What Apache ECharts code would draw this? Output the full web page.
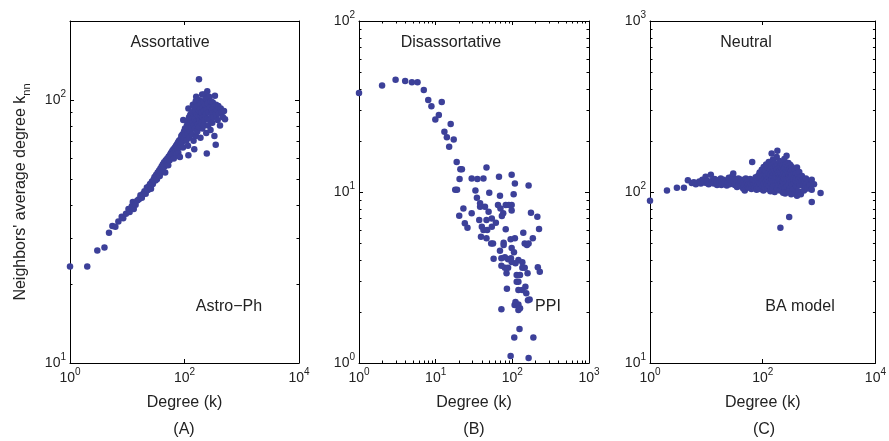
<!DOCTYPE html>
<html><head><meta charset="utf-8">
<script src="https://cdn.jsdelivr.net/npm/echarts@6/dist/echarts.min.js"></script>
<style>html,body{margin:0;padding:0;background:#fff}#c{width:889px;height:441px}</style>
</head><body><div id="c"></div><script>
// ---- data: [degree k, neighbours' average degree knn] ----
const astroPh = [[1,23.3],[2,23.3],[3,26.8],[4,27.5],[4.8,31.3],[5.5,33.2],[6.2,33],[7,34.5],[8,36],[8.5,35.5],[9.5,37],[10.5,38.5],[11,37.5],[12,39.5],[12.5,41],[13,38.5],[14,40],[15,41.5],[16,42],[17,43.5],[18,42.5],[19,44],[20,45],[21,44],[22,46.5],[23,45.5],[24,47],[25,48],[26,46],[27,49],[28,48],[29,50],[30,51],[31,49.5],[32,52],[33,50],[34,53],[35,52],[36,54],[37,51.5],[38,55],[39,53],[40,56],[41,54],[42,57],[43,55.5],[44,58],[45,56],[46,53],[47,59],[48,57],[50,60],[51,58],[52,56.5],[53,61],[55,59],[56,62],[57,60.5],[58,63],[60,61],[61,64],[62,62],[64,65],[65,60],[66,63.5],[68,66],[70,64],[71,67],[72,62],[74,68],[75,65.5],[77,69],[78,63],[80,70],[82,66],[83,60.8],[85,71],[86,68],[88,73],[90,69],[92,74],[94,66],[95,84],[96,71],[98,76],[100,72],[102,78],[104,74],[106,77.6],[108,70],[110,80],[112,75],[114,83],[115,67],[117,93],[117,61.7],[118,78],[120,86],[122,72],[124,81],[126,88],[128,76],[130,84],[132,79],[134,90],[136,74],[138,82],[140,96],[142,87],[144,70],[146,80],[148,94],[148,65],[150,85],[152,78],[155,90],[157,99],[158,73],[160,103],[162,83],[165,88],[167,76],[170,95],[172,81],[175,86],[178,91],[179,120],[180,79],[183,100],[185,84],[188,93],[190,72],[193,87],[195,97],[198,82],[200,90],[203,105],[205,78],[208,94],[210,86],[213,99],[216,80],[219,105],[220,91],[224,84],[228,96],[232,88],[236,101],[240,75],[245,62.7],[245,92],[250,108],[252,85],[256,97],[260,80],[265,90],[270,103],[275,84],[280,94],[285,77],[290,99],[295,88],[300,92],[306,82],[312,98],[318,86],[325,93],[333,73],[340,104],[345,90],[351,67.6],[355,96],[360,87],[370,92],[380,84],[390,95],[400,89],[417,80],[430,93],[450,90],[470,86],[490,91],[510,84.5]];

const ppi = [[1,37.9],[2,41.9],[3,45.4],[4,44.6],[4.9,43.8],[5.8,43.8],[7,39.5],[8,34.5],[8.8,31.7],[12,33.6],[9.9,26.5],[11,28.2],[13,22.5],[14,20.9],[15.7,25],[17.2,20.3],[15,18.4],[18.8,15],[21,13.6],[22,13.6],[20.5,11.9],[18,10.3],[19,10.3],[20.3,7.27],[24,6.56],[26,6.18],[29.5,12],[35,11.9],[42,12],[46,13.9],[67,12.3],[98,12.6],[108,11.2],[104,9.7],[163,10.9],[33,10.2],[34.5,9.26],[50,9.9],[69,9.5],[23,8],[29.5,7.5],[38,8.2],[44,8.2],[49,7.67],[37,6.86],[46,6.86],[54,7],[65,8.4],[82,8.4],[90,8.4],[98,8.4],[70,8],[76,7.5],[98,7.8],[54,6.27],[61,6.6],[73,7.24],[40,6.27],[42,6],[47,6],[39,5.48],[46,5.36],[53,5],[56,5],[82,6.05],[77,5.05],[77,4.9],[69,4.54],[57,4.07],[72,4.1],[80,4.15],[88,4.05],[96,4.1],[72,3.7],[80,3.6],[88,3.6],[84,3.35],[98,4.7],[95,5.29],[108,5.36],[105,4.44],[120,4],[110,3.83],[114,3.27],[126,3.27],[135,3.61],[158,3.35],[114,2.99],[120,2.99],[120,2.67],[135,2.67],[148,2.79],[152,2.56],[160,2.33],[168,2.35],[85,2.72],[72,2.06],[107,2.18],[114,2.18],[120,2.2],[120,2.04],[126,2.09],[110,2.27],[124,1.58],[106,1.41],[188,1.41],[95,1.1],[163,1.07],[139,5.78],[145,5],[163,5],[155,4.9],[175,7.57],[185,5.36],[212,7.17],[223,6.08],[215,3.63],[228,3.42],[145,3.6],[135,3.88],[98,3.9],[38,8.6]];

const baModel = [[1,89],[2,102],[3,106],[4,106],[4.7,117],[5.5,113],[6,114],[6.5,111],[7,113],[7.5,115],[8,112],[8.5,118],[9,114],[9.7,123],[10,113],[10.5,116],[11,111],[12,126],[12.5,114],[13,117],[13.5,112],[14,119],[15,115],[15.5,110],[16,117],[17,113],[18,120],[18.5,110],[19,115],[20,118],[21,112],[22,116],[23,109],[24,114],[25,121],[26,111],[27,117],[28,113],[29,124],[30,128.5],[31,115],[32,110],[33,119],[34,113],[35,107],[36,116],[37,120],[38,111],[40,114],[41,108],[42,118],[44,112],[45,105],[46,116],[47,110],[48,102],[50,120],[52,113],[53,108],[55,117],[56,111],[58,106],[60,119],[62,112],[63,104],[65,150],[66,115],[68,109],[70,118],[72,106],[74,113],[75,122],[77,108],[78,103],[80,116],[82,111],[84,125],[85,106],[87,119],[88,130],[90,112],[92,104],[93,121],[95,115],[96,135],[98,108],[100,124],[101,117],[103,102],[104,140],[105,112],[107,128],[108,120],[110,106],[112,133],[113,115],[115,145],[116,110],[118,125],[120,118],[122,104],[123,138],[125,113],[127,129],[128,150],[130,108],[132,122],[133,116],[135,135],[137,101],[138,127],[140,112],[142,143],[144,168],[145,119],[147,131],[148,106],[150,124],[152,155],[153,115],[155,138],[157,109],[158,128],[160,121],[162,147],[163,100],[165,133],[167,116],[168,125],[170,141],[172,110],[174,129],[175,120],[177,160],[178,136],[180,105],[182,174],[183,126],[185,115],[187,145],[188,131],[190,121],[192,110],[194,138],[195,127],[197,152],[198,117],[200,133],[202,102],[204,124],[205,142],[206,61.8],[208,113],[210,130],[212,119],[214,148],[216,126],[218,108],[220,137],[222,121],[224,131],[226,115],[228,143],[230,125],[233,110],[235,135],[237,120],[240,129],[242,156],[244,105],[246,124],[248,139],[250,117],[253,130],[255,112],[258,145],[260,127],[262,119],[265,163],[267,133],[270,108],[272,124],[275,140],[278,116],[280,130],[283,122],[286,148],[288,111],[290,135],[293,126],[295,71.4],[297,118],[300,138],[303,129],[306,105],[310,144],[313,121],[316,132],[320,115],[324,127],[328,140],[332,110],[336,122],[340,134],[345,103],[350,119],[355,129],[360,113],[365,136],[370,98],[375,124],[380,117],[386,128],[392,108],[398,121],[406,139],[406,95],[412,114],[420,126],[428,101],[436,118],[445,131],[455,110],[465,122],[475,97],[485,115],[496,124],[510,109],[525,119],[540,102],[555,115],[570,108],[585,120],[606,112],[625,105],[650,114],[680,110],[741,118],[741,103],[741,87.5],[813,111],[1062,98.6],[250,98],[320,97],[280,100],[230,99]];

// ---- axis ranges & minor tick values ----
const xRanges = [[1, 10000], [1, 1000], [1, 10000]];
const yRanges = [[10, 200], [1, 100], [10, 1000]];
const xIntervals = [2, 1, 2];
const minorA_y = [20,30,40,50,60,70,80,90];
const minorB_x = [2,3,4,5,6,7,8,9,20,30,40,50,60,70,80,90,200,300,400,500,600,700,800,900];
const minorB_y = [2,3,4,5,6,7,8,9,20,30,40,50,60,70,80,90];
const minorC_y = [20,30,40,50,60,70,80,90,200,300,400,500,600,700,800,900];

const panelTitles = ['Assortative', 'Disassortative', 'Neutral'];
const panelNames = ['Astro\u2212Ph', 'PPI', 'BA model'];
const panelLetters = ['(A)', '(B)', '(C)'];

const FONT = 'Liberation Sans, Arial, Helvetica, sans-serif';
const DOT = '#3c4099';
const TXT = '#222';

const grids = [
  {left: 70, top: 21, width: 229, height: 342},
  {left: 359, top: 21, width: 230, height: 342},
  {left: 650, top: 21, width: 230, height: 342}
];

function powFmt(v) {
  const l = Math.log10(v);
  const e = Math.round(l);
  if (Math.abs(l - e) > 1e-6) return '';
  return '{b|10}{s|' + e + '}';
}
const labelRich = {
  b: {fontSize: 14, lineHeight: 22, fontFamily: FONT, color: TXT},
  s: {fontSize: 10, lineHeight: 10, verticalAlign: 'top', fontFamily: FONT, color: TXT}
};
const lineStyle = {color: '#000', width: 1};

const xAxis = [], yAxis = [], series = [];
for (let i = 0; i < 3; i++) {
  const base = {type: 'log', logBase: 10, gridIndex: i, splitLine: {show: false}};
  xAxis.push(Object.assign({}, base, {
    position: 'bottom', min: xRanges[i][0], max: xRanges[i][1], interval: xIntervals[i],
    axisLine: {show: true, lineStyle}, axisTick: {show: true, inside: true, length: 4, lineStyle},
    axisLabel: {formatter: powFmt, rich: labelRich, margin: 4, showMinLabel: true, showMaxLabel: true},
    name: 'Degree (k)', nameLocation: 'middle', nameGap: 32,
    nameTextStyle: {fontSize: 16, fontFamily: FONT, color: TXT}
  }));
  xAxis.push(Object.assign({}, base, {
    position: 'top', min: xRanges[i][0], max: xRanges[i][1], interval: xIntervals[i],
    axisLine: {show: true, lineStyle}, axisTick: {show: true, inside: true, length: 4, lineStyle},
    axisLabel: {show: false}
  }));
  yAxis.push(Object.assign({}, base, {
    position: 'left', min: yRanges[i][0], max: yRanges[i][1], interval: 1,
    axisLine: {show: true, lineStyle}, axisTick: {show: true, inside: true, length: 4, lineStyle},
    axisLabel: {formatter: powFmt, rich: labelRich, margin: 4, showMinLabel: true, showMaxLabel: true}
  }, i === 0 ? {
    name: "Neighbors' average degree k{sub|nn}", nameLocation: 'middle', nameGap: 38,
    nameTextStyle: {fontSize: 16, fontFamily: FONT, color: TXT, lineHeight: 22,
      rich: {sub: {fontSize: 11, lineHeight: 11, verticalAlign: 'bottom', fontFamily: FONT, color: TXT}}}
  } : {}));
  yAxis.push(Object.assign({}, base, {
    position: 'right', min: yRanges[i][0], max: yRanges[i][1], interval: 1,
    axisLine: {show: true, lineStyle}, axisTick: {show: true, inside: true, length: 4, lineStyle},
    axisLabel: {show: false}
  }));
}

const datasets = [astroPh, ppi, baModel];
for (let i = 0; i < 3; i++) {
  series.push({
    type: 'scatter', xAxisIndex: 2 * i, yAxisIndex: 2 * i,
    data: datasets[i], symbolSize: 6.5, itemStyle: {color: DOT, opacity: 1},
    silent: true, animation: false
  });
}

function minorTicks(i, vals, dir) {
  const xr = xRanges[i], yr = yRanges[i];
  return {
    type: 'custom', xAxisIndex: 2 * i, yAxisIndex: 2 * i, silent: true, animation: false, clip: false,
    data: vals.map(v => dir === 'x' ? [v, yr[0]] : [xr[0], v]),
    renderItem: function (params, api) {
      const L = 2.5, st = {stroke: '#000', lineWidth: 1};
      if (dir === 'x') {
        const v = api.value(0);
        const b = api.coord([v, yr[0]]), t = api.coord([v, yr[1]]);
        const x = Math.round(b[0]) + 0.5;
        return {type: 'group', children: [
          {type: 'line', shape: {x1: x, y1: b[1], x2: x, y2: b[1] - L}, style: st},
          {type: 'line', shape: {x1: x, y1: t[1], x2: x, y2: t[1] + L}, style: st}
        ]};
      } else {
        const v = api.value(1);
        const l = api.coord([xr[0], v]), r = api.coord([xr[1], v]);
        const y = Math.round(l[1]) + 0.5;
        return {type: 'group', children: [
          {type: 'line', shape: {x1: l[0], y1: y, x2: l[0] + L, y2: y}, style: st},
          {type: 'line', shape: {x1: r[0], y1: y, x2: r[0] - L, y2: y}, style: st}
        ]};
      }
    }
  };
}
series.push(minorTicks(0, minorA_y, 'y'));
series.push(minorTicks(1, minorB_x, 'x'));
series.push(minorTicks(1, minorB_y, 'y'));
series.push(minorTicks(2, minorC_y, 'y'));

const graphic = [];
const titlePos = [[170, 43], [451, 43], [746, 43]];
const namePos = [[229, 307], [548, 307], [800, 307]];
const letterPos = [[184, 430], [474, 430], [764, 430]];
for (let i = 0; i < 3; i++) {
  [[panelTitles[i], titlePos[i]], [panelNames[i], namePos[i]], [panelLetters[i], letterPos[i]]].forEach(function (p) {
    graphic.push({type: 'text', x: p[1][0], y: p[1][1], silent: true,
      style: {text: p[0], font: '16px ' + FONT, fill: TXT, align: 'center', verticalAlign: 'middle'}});
  });
}

const chart = echarts.init(document.getElementById('c'), null, {renderer: 'canvas'});
chart.setOption({
  animation: false,
  backgroundColor: '#fff',
  grid: grids,
  xAxis: xAxis,
  yAxis: yAxis,
  series: series,
  graphic: graphic
});
</script></body></html>
